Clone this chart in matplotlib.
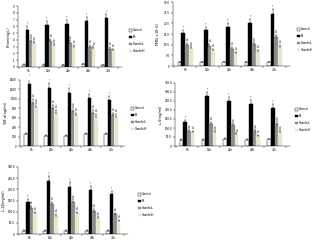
import matplotlib
matplotlib.use("Agg")
import matplotlib.pyplot as plt
import numpy as np

times = ["6h", "12h", "24h", "48h", "72h"]
groups = ["Control", "PS", "XuanfeiL", "XuanfeiH"]
colors = ["#ffffff", "#000000", "#8c8c8c", "#e9e5cf"]

protein_ctrl = [0.35, 0.35, 0.3, 0.4, 0.25]
protein_ps = [5.5, 6.2, 6.4, 6.8, 7.2]
protein_xl = [3.9, 3.8, 3.6, 3.0, 2.7]
protein_xh = [3.5, 3.2, 3.0, 2.8, 2.5]

pmn_ctrl = [1.8, 1.8, 1.8, 1.8, 1.8]
pmn_ps = [15.5, 16.7, 18.3, 20.2, 24.5]
pmn_xl = [10.0, 9.5, 8.2, 10.2, 13.5]
pmn_xh = [8.5, 7.3, 6.2, 7.0, 9.0]

tnf_ctrl = [250, 220, 220, 250, 250]
tnf_ps = [1320, 1230, 1120, 1020, 980]
tnf_xl = [920, 800, 750, 700, 650]
tnf_xh = [830, 710, 650, 620, 620]

il6_ctrl = [35, 35, 40, 35, 38]
il6_ps = [135, 275, 252, 235, 212]
il6_xl = [85, 123, 115, 85, 125]
il6_xh = [78, 80, 65, 57, 80]

il1_ctrl = [15, 15, 15, 15, 15]
il1_ps = [145, 238, 212, 198, 178]
il1_xl = [115, 133, 142, 103, 88]
il1_xh = [92, 82, 92, 73, 58]

W, H = 312, 240
fig = plt.figure(figsize=(W / 100, H / 100), dpi=100)
FS = 2.0


def add_ax(l, r, t, b):
    return fig.add_axes([l / W, 1 - b / H, (r - l) / W, (b - t) / H])


def panel(ax, series, ymax, ystep, ylabel, fmt, leg_xy):
    x = np.arange(len(times))
    bw = 0.17
    offs = [-1.5 * bw, -0.5 * bw, 0.5 * bw, 1.5 * bw]
    for k, (vals, c, g) in enumerate(zip(series, colors, groups)):
        vals = np.array(vals, float)
        err = vals * 0.09
        ax.bar(x + offs[k], vals, bw, color=c, edgecolor="black" if k == 0 else c,
               linewidth=0.3, label=g, zorder=2)
        ax.errorbar(x + offs[k], vals, yerr=[np.zeros_like(err), err], fmt="none",
                    ecolor="black", elinewidth=0.3, capsize=0.6, capthick=0.3, zorder=3)
        mark = "" if k == 0 else ("*" if k == 1 else "#")
        for xi, v, e in zip(x + offs[k], vals, err):
            if mark:
                ax.text(xi, v + e + ymax * 0.01, mark, ha="center", va="bottom",
                        fontsize=FS * 0.9)
    ax.set_xlim(-0.55, 4.7)
    ax.set_ylim(0, ymax)
    ticks = np.arange(0, ymax + ystep / 2, ystep)
    ax.set_yticks(ticks)
    ax.set_yticklabels([fmt(t) for t in ticks], fontsize=FS)
    ax.set_xticks(x)
    ax.set_xticklabels(times, fontsize=FS)
    ax.set_xticks(np.arange(-0.5, 4.6, 1), minor=True)
    ax.tick_params(axis="x", which="major", length=0, pad=1.5)
    ax.tick_params(axis="x", which="minor", length=1.2, width=0.3)
    ax.tick_params(axis="y", length=1.2, width=0.3, pad=1)
    for s in ["top", "right"]:
        ax.spines[s].set_visible(False)
    for s in ["left", "bottom"]:
        ax.spines[s].set_linewidth(0.3)
    ax.set_ylabel(ylabel, fontsize=FS * 1.25, labelpad=1.5)
    fig.legend(*ax.get_legend_handles_labels(), loc="upper left",
               bbox_to_anchor=(leg_xy[0] / W, 1 - leg_xy[1] / H), fontsize=FS,
               frameon=False, handlelength=0.9, handleheight=0.9,
               labelspacing=1.0, handletextpad=0.3, borderpad=0)


ax1 = add_ax(18, 122, 6, 67)
panel(ax1, [protein_ctrl, protein_ps, protein_xl, protein_xh], 9, 1,
      "Protein(g/L)", lambda t: f"{t:g}", (128, 27))
ax2 = add_ax(173, 290, 2, 66)
panel(ax2, [pmn_ctrl, pmn_ps, pmn_xl, pmn_xh], 30, 5,
      "PMN(×10$^9$/L)", lambda t: "0" if t == 0 else f"{t:.1f}", (296, 26))
ax3 = add_ax(20, 125, 80, 146)
panel(ax3, [tnf_ctrl, tnf_ps, tnf_xl, tnf_xh], 1400, 200,
      "TNF-α(ng/ml)", lambda t: f"{t:.0f}", (130, 105))
ax4 = add_ax(175, 290, 83, 146)
panel(ax4, [il6_ctrl, il6_ps, il6_xl, il6_xh], 350, 50,
      "IL-6(ng/ml)", lambda t: "0" if t == 0 else f"{t:.1f}", (294, 106))
ax5 = add_ax(18, 128, 167, 234)
panel(ax5, [il1_ctrl, il1_ps, il1_xl, il1_xh], 300, 50,
      "IL-1β(ng/ml)", lambda t: "0" if t == 0 else f"{t:.1f}", (137, 191))

fig.savefig("out.png", dpi=100)
